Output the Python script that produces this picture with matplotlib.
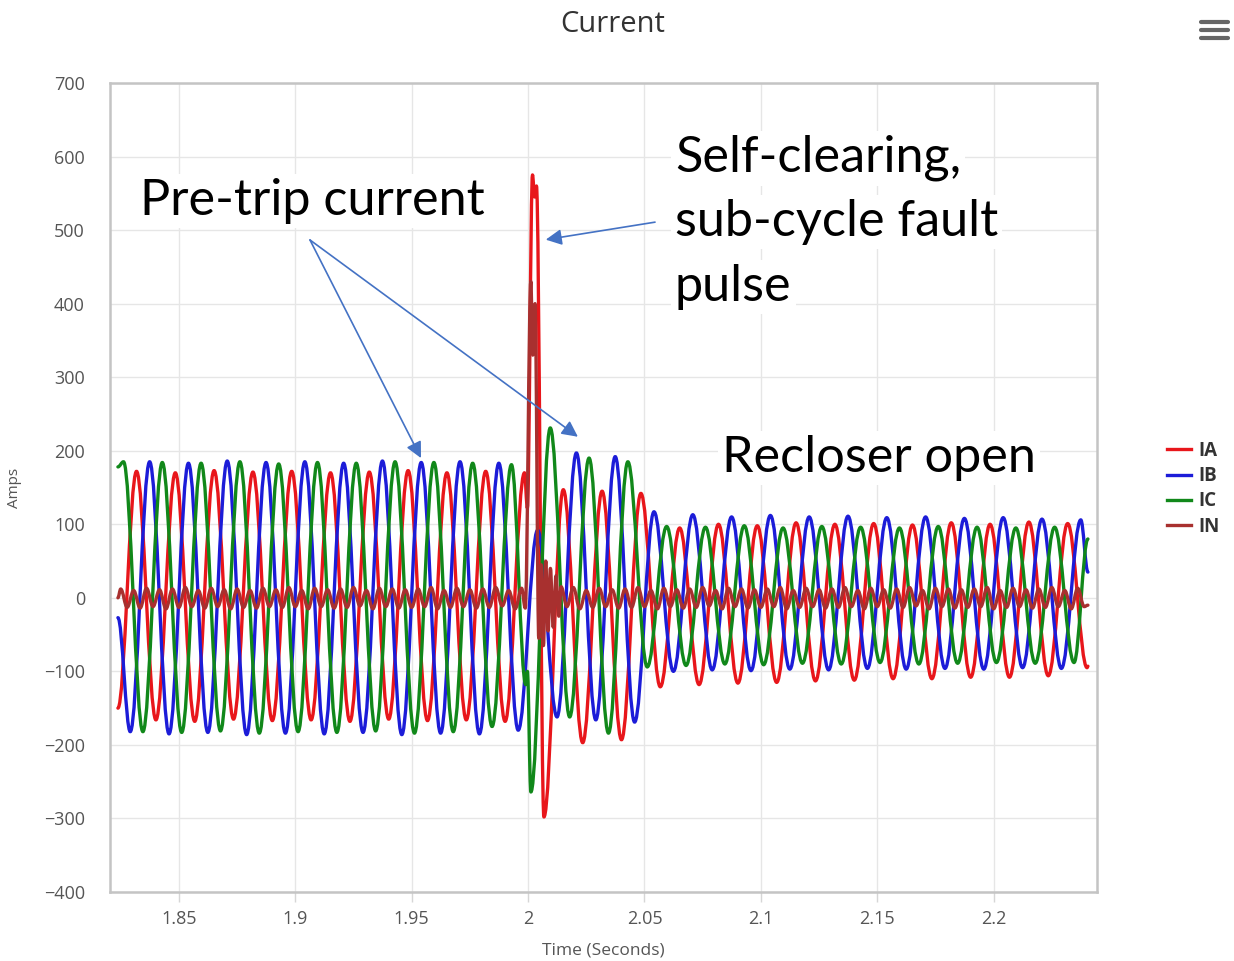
import numpy as np
import matplotlib
matplotlib.use("Agg")
import matplotlib.pyplot as plt
from matplotlib.path import Path
from matplotlib.patches import PathPatch
from matplotlib.lines import Line2D

plt.rcParams['font.family'] = ['Open Sans', 'DejaVu Sans']

# record window (seconds)
T_START = 1.8238
T_END = 2.2405
HALF = 1 / 120.0     # half cycle, 60 Hz phases
IN_STEP = 1 / 360.0  # half cycle of the 3rd harmonic ripple in the neutral

# each channel: value at T_START, time of first extreme, extremes every half cycle,
# extra extremes inside the fault, value at T_END
ia_start, ia_first, ia_end = -150, 1.8318, -93
ia_ext = [172, -166, 170, -168, 173, -165, 171, -167, 172, -166, 170, -168, 171, -165,
          173, -167, 170, -166, 172, -168, 170,
          -298, 147, -197, 145, -193, 142, -121, 95, -118, 100, -116, 98, -115, 102,
          -113, 100, -112, 101, -110, 99, -110, 102, -108, 100, -108, 103, -106, 101, -95]
ia_fault_t = [1.9997, 2.0019, 2.0028, 2.0036]
ia_fault_v = [122, 575, 545, 560]

ib_start, ib_first, ib_end = -27, 1.8291, 35
ib_ext = [-182, 185, -185, 183, -183, 186, -186, 184, -184, 185, -185, 183, -183, 186,
          -186, 184, -184, 185, -185, 183, -180,
          92, -162, 197, -166, 192, -169, 117, -100, 113, -98, 110, -99, 112, -97,
          110, -98, 111, -96, 109, -97, 110, -96, 108, -97, 109, -95, 107, -96, 106]
ib_fault_t = []
ib_fault_v = []

ic_start, ic_first, ic_end = 178, 1.8262, 80
ic_ext = [185, -182, 184, -183, 183, -181, 185, -184, 182, -182, 184, -183, 183, -181,
          185, -184, 184, -182, 183, -175, 181,
          -264, 231, -162, 190, -184, 185, -94, 97, -92, 96, -90, 98, -91, 95,
          -89, 97, -90, 96, -88, 95, -90, 97, -89, 96, -88, 95, -89, 96, -88]
ic_fault_t = [1.9990, 1.9997]
ic_fault_v = [-118, -100]

in_start, in_first, in_end = 0, 1.8250, -10
in_ext = [12, -13, 10, -14, 13, -12, 11, -15, 12, -13, 14, -12, 10, -14, 13,
          -12, 11, -15, 12, -13, 10, -14, 13, -12, 11, -13, 14, -12, 10, -15,
          13, -12, 11, -14, 12, -13, 14, -11, 10, -15, 13, -12, 12, -14, 11,
          -13, 12, -12, 14, -15, 10, -13, 13, -12, 11, -14, 12, -13, 14, -11,
          10, -15, 13, -12, 12, -14, 11, -13, 12, -12, 14, -15, 10, -13, 13,
          -12, 11, -14, 12, -13, 14, -12, 10, -15, 13, -12, 11, -14, 12, -13,
          14, -11, 10, -15, 13, -12, 12, -14, 11, -13, 12, -12, 14, -15, 10,
          -13, 13, -12, 11, -14, 12, -13, 14, -12, 10, -15, 13, -12, 11, -14,
          12, -13, 14, -11, 10, -15, 13, -12, 12, -14, 11, -13, 12, -12, 14,
          -15, 10, -13, 13, -12, 11, -14, 12, -13, 14, -12, 10, -15, 13, -12]
in_fault_t = [1.9988, 2.0012, 2.0020, 2.0030, 2.0046, 2.0056, 2.0066, 2.0076,
              2.0086, 2.0096, 2.0108, 2.0120, 2.0132, 2.0142]
in_fault_v = [-14, 430, 330, 400, -55, 45, -65, 50, -45, 40, -40, 30, -25, 15]
in_fault_window = (1.9980, 2.0145)

names = ['IA', 'IB', 'IC', 'IN']
colors = ['#e8161b', '#1c1cd8', '#11881a', '#a8302f']

x_ticks = [1.85, 1.9, 1.95, 2.0, 2.05, 2.1, 2.15, 2.2]
x_labels = ['1.85', '1.9', '1.95', '2', '2.05', '2.1', '2.15', '2.2']
y_ticks = [-400, -300, -200, -100, 0, 100, 200, 300, 400, 500, 600, 700]
y_labels = ['\u2212400', '\u2212300', '\u2212200', '\u2212100', '0', '100', '200',
            '300', '400', '500', '600', '700']


def build(start, first, step, ext, end, extra_t, extra_v, drop=None):
    t = first + np.arange(len(ext)) * step
    v = np.array(ext, dtype=float)
    if drop is not None:
        keep = (t < drop[0]) | (t > drop[1])
        t, v = t[keep], v[keep]
    t = np.concatenate([[T_START], t, extra_t, [T_END]])
    v = np.concatenate([[start], v, extra_v, [end]])
    order = np.argsort(t, kind='stable')
    return t[order], v[order]


def wave_path(t, v):
    # cubic segments with flat tangents at every extreme
    verts = [(t[0], v[0])]
    codes = [Path.MOVETO]
    for i in range(1, len(t)):
        h = (t[i] - t[i - 1]) * 0.363
        verts += [(t[i - 1] + h, v[i - 1]), (t[i] - h, v[i]), (t[i], v[i])]
        codes += [Path.CURVE4] * 3
    return Path(verts, codes)


series = [
    build(ia_start, ia_first, HALF, ia_ext, ia_end, ia_fault_t, ia_fault_v),
    build(ib_start, ib_first, HALF, ib_ext, ib_end, ib_fault_t, ib_fault_v),
    build(ic_start, ic_first, HALF, ic_ext, ic_end, ic_fault_t, ic_fault_v),
    build(in_start, in_first, IN_STEP, in_ext, in_end, in_fault_t, in_fault_v,
          drop=in_fault_window),
]

fig = plt.figure(figsize=(12.34, 9.61), dpi=100)
ax = fig.add_axes([110 / 1234, 1 - 892 / 961, 987 / 1234, 809 / 961])

for (t, v), c in zip(series, colors):
    ax.add_patch(PathPatch(wave_path(t, v), fill=False, edgecolor=c, lw=2.4,
                           joinstyle='round', capstyle='round', zorder=3))

ax.set_xlim(1.8204, 2.2444)
ax.set_ylim(-400, 700)
ax.set_xticks(x_ticks)
ax.set_xticklabels(x_labels)
ax.set_yticks(y_ticks)
ax.set_yticklabels(y_labels)
ax.set_axisbelow(True)
ax.grid(True, color='#e6e6e6', lw=1.0)
for s in ax.spines.values():
    s.set_color('#c4c4c4')
    s.set_linewidth(1.8)
ax.tick_params(axis='x', length=7, width=1, color='#d6d6d6', pad=6,
               labelsize=13, labelcolor='#555555')
ax.tick_params(axis='y', length=0, pad=18, labelsize=13, labelcolor='#555555')

ax.set_xlabel('Time (Seconds)', fontsize=12.5, color='#555555')
ax.xaxis.set_label_coords(0.5, -0.0717)
ax.xaxis.label.set_va('center')
ax.set_ylabel('Amps', fontsize=11, color='#555555')
ax.yaxis.set_label_coords(-0.0963, 0.5)
ax.yaxis.label.set_va('center')

fig.text(613 / 1234, 1 - 24 / 961, 'Current', ha='center', va='center',
         fontsize=21, color='#333333')

# menu icon
for yp in (22, 30, 38):
    fig.add_artist(Line2D([1201 / 1234, 1228 / 1234], [1 - yp / 961, 1 - yp / 961],
                          color='#666666', lw=3.0, solid_capstyle='round'))

handles = [Line2D([], [], color=c, lw=2.4) for c in colors]
leg = fig.legend(handles, names, loc='upper left', bbox_to_anchor=(1150 / 1234, 1 - 424 / 961),
                 frameon=False, fontsize=13.5, handlelength=1.3, handletextpad=0.4,
                 labelspacing=0.28)
for txt in leg.get_texts():
    txt.set_color('#333333')
    txt.set_fontweight('bold')

# call-outs
big = dict(fontsize=36.3, family=['Lato', 'DejaVu Sans'], color='black',
           transform=ax.transAxes, ha='left', va='baseline', zorder=5,
           bbox=dict(facecolor='white', edgecolor='none', pad=3))
ax.text(0.0304, 0.8368, 'Pre-trip current', **big)
for line, yb in zip(['Self-clearing,', 'sub-cycle fault', 'pulse'], [0.890, 0.811, 0.731]):
    ax.text(0.5724, yb, line, **big)
ax.text(0.620, 0.519, 'Recloser open', **big)

arrow_kw = dict(arrowstyle='-|>', color='#4472C4', lw=1.2, mutation_scale=24,
                shrinkA=0, shrinkB=0)
ax.annotate('', xy=(1.9540, 190), xycoords='data', xytext=(0.2026, 0.806),
            textcoords='axes fraction', arrowprops=arrow_kw, zorder=6)
ax.annotate('', xy=(2.0214, 219), xycoords='data', xytext=(0.2026, 0.806),
            textcoords='axes fraction', arrowprops=arrow_kw, zorder=6)
ax.annotate('', xy=(2.0076, 487), xycoords='data', xytext=(0.5522, 0.828),
            textcoords='axes fraction', arrowprops=arrow_kw, zorder=6)

fig.savefig('out.png', dpi=100, facecolor='white')
